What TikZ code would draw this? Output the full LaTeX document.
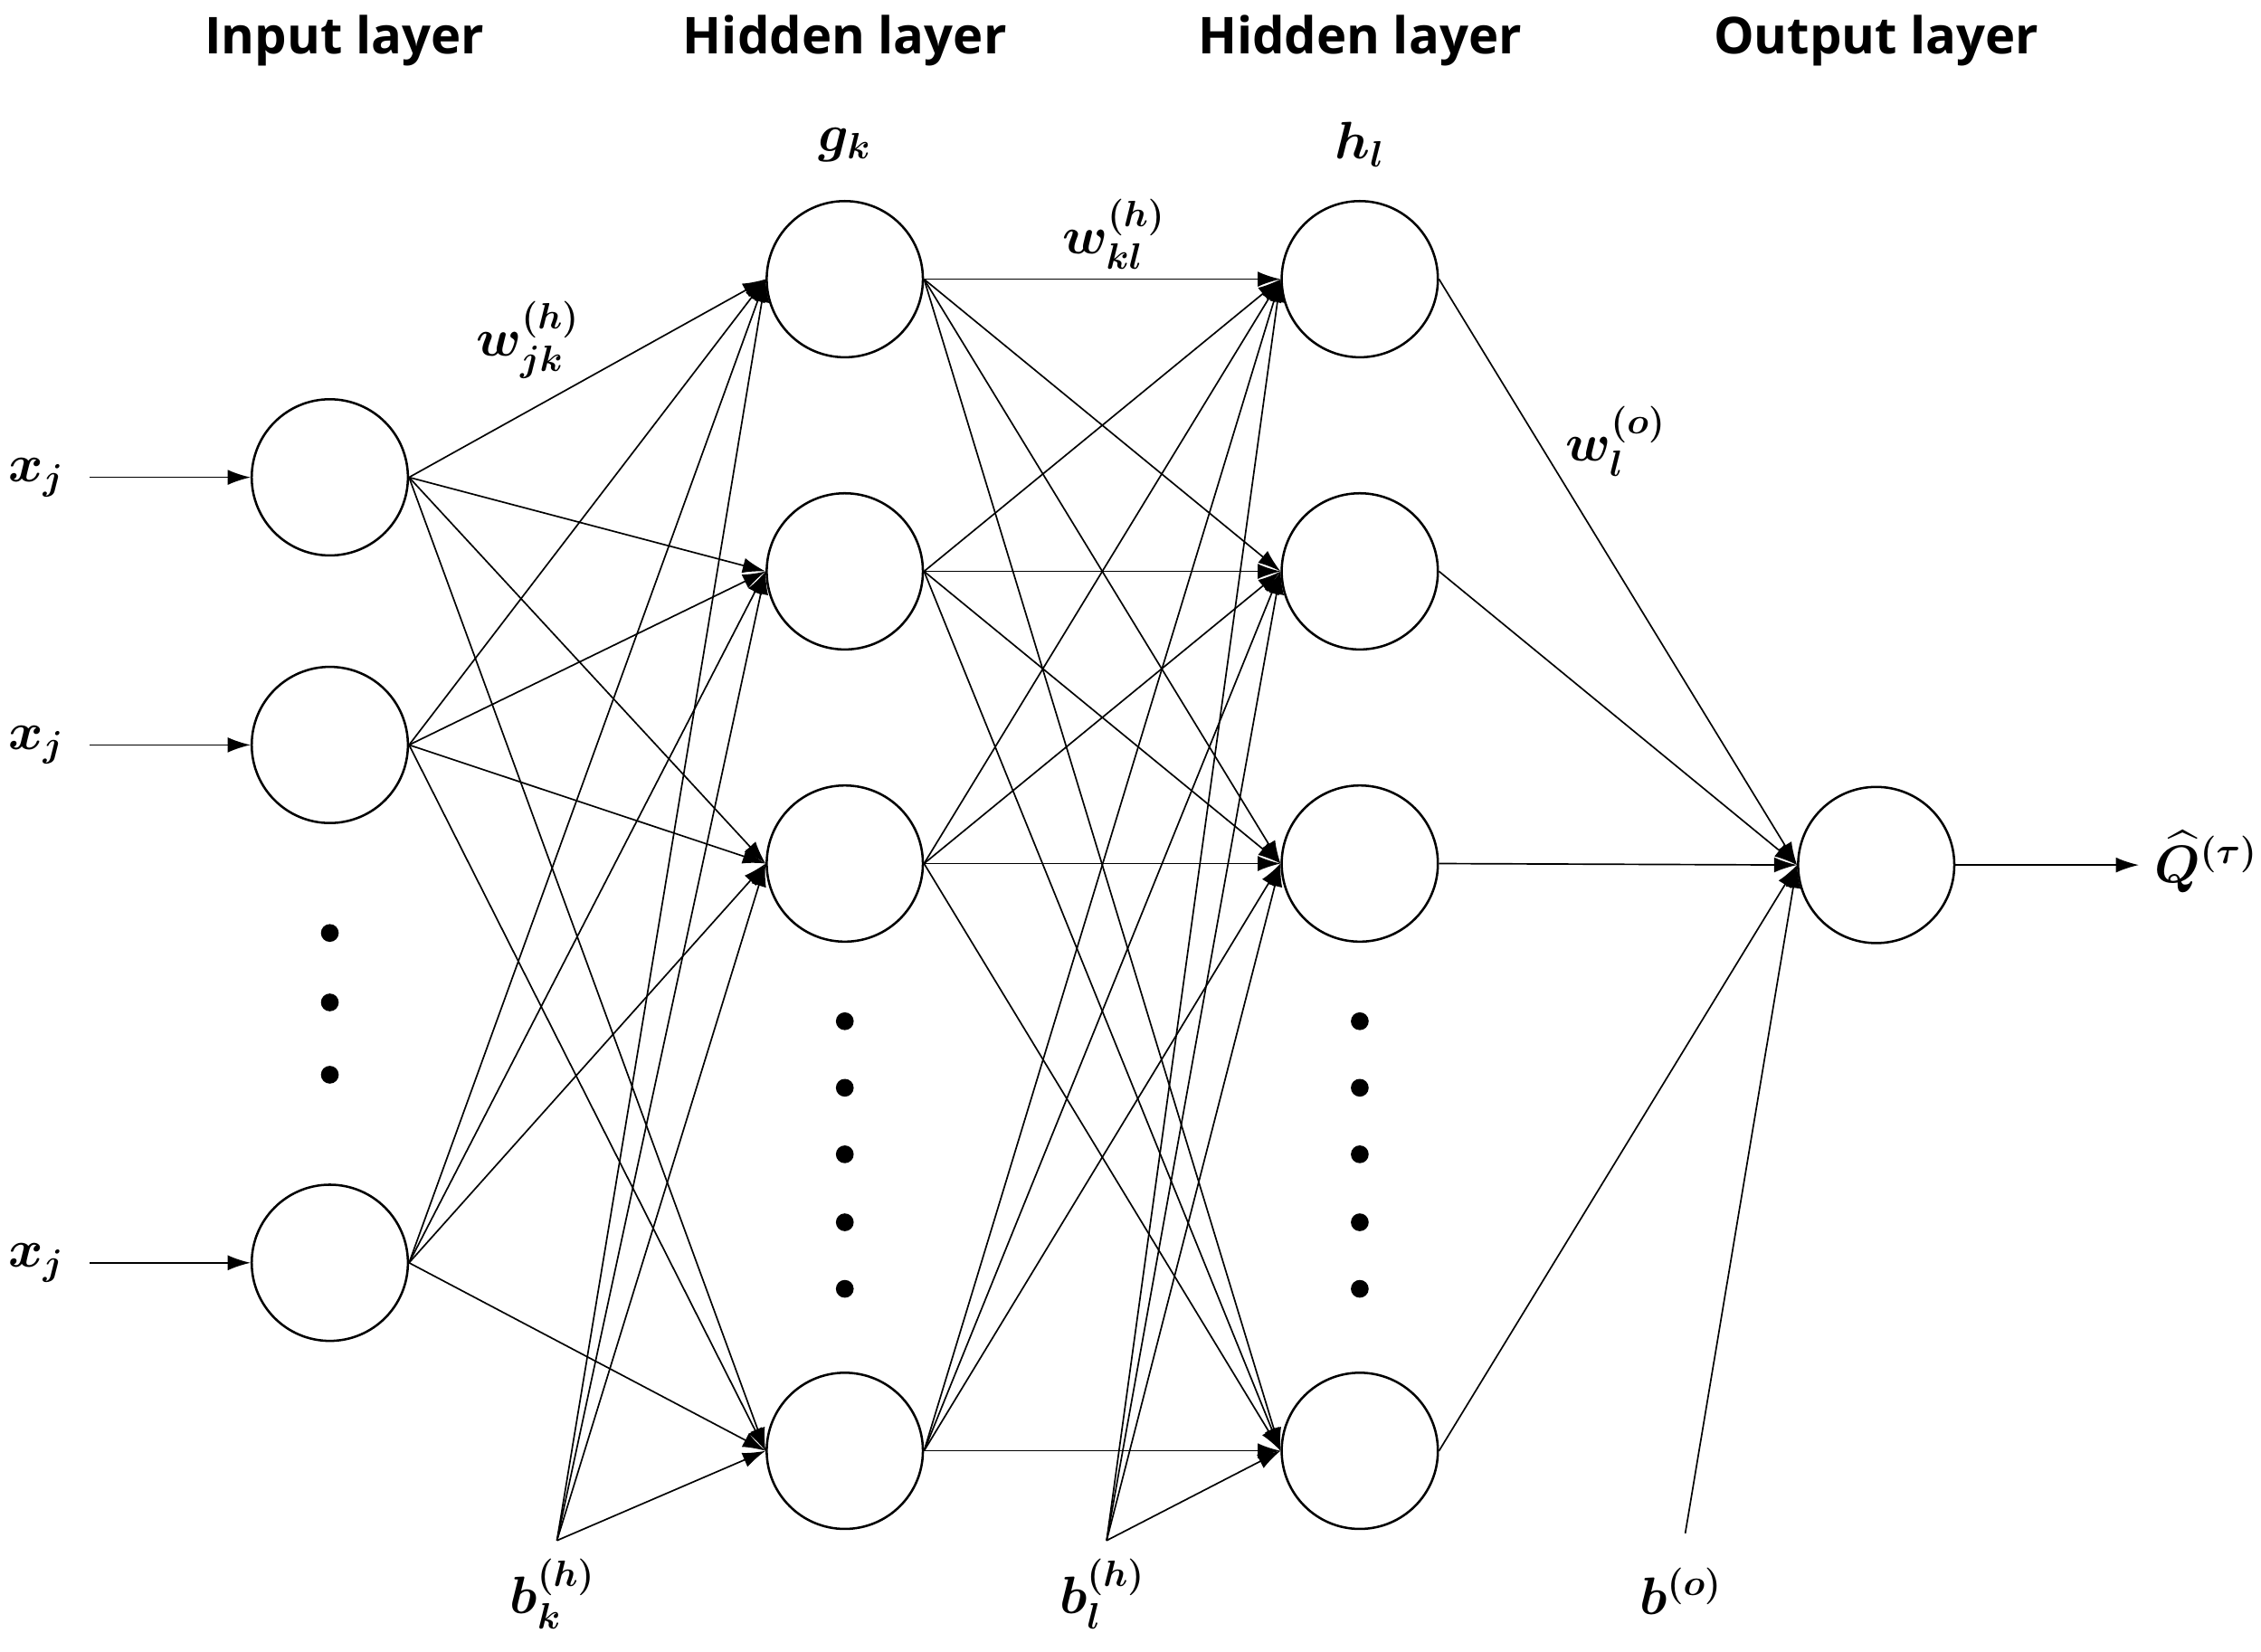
\documentclass[tikz,border=0pt]{standalone}
\usepackage{fontspec}
\usepackage{amsmath,bm}
\setmainfont{Open Sans}
\usetikzlibrary{arrows.meta}
\begin{document}
\begin{tikzpicture}[x=0.02cm, y=-0.02cm, >={Latex[length=9pt,width=6pt]}]
    \tikzstyle{neuron}=[circle,draw,line width=0.9pt,minimum size=2.16cm,inner sep=0pt]
    \tikzstyle{conn}=[->,line width=0.6pt]
    \tikzstyle{dot}=[circle,fill=black,minimum size=7pt,inner sep=0pt]
    \tikzstyle{annot}=[font=\fontsize{20}{24}\selectfont\bfseries]
    \tikzstyle{lab}=[font=\fontsize{20}{24}\selectfont]
    \useasboundingbox (0,0) rectangle (1563,1142);

    % headers
    \foreach \x/\t in {238/Input layer, 584/Hidden layer, 940/Hidden layer, 1297/Output layer}
    \node[annot] at (\x,28) {\t};

    % neurons
    \foreach \y [count=\i] in {330, 515, 873}
    \node[neuron] (input-\i) at (228,\y) {};
    \foreach \y [count=\i] in {193, 395, 597, 1003}
    \node[neuron] (hidden-\i) at (584,\y) {};
    \foreach \y [count=\i] in {193, 395, 597, 1003}
    \node[neuron] (hiddenb-\i) at (940,\y) {};
    \node[neuron] (output-1) at (1297,598) {};

    % dots
    \foreach \y in {645, 693, 743}
    \node[dot] at (228,\y) {};
    \foreach \y in {706, 752, 798, 845, 891}
    {\node[dot] at (584,\y) {};
     \node[dot] at (940,\y) {};}

    % inputs
    \foreach \i in {1,2,3}
    {\node[lab] (x-\i) at (25,0 |- input-\i) {$\bm{x_j}$};
     \coordinate (xs-\i) at (62,0 |- input-\i);
     \draw[conn] (xs-\i) -- (input-\i);}

    % connections
    \foreach \i in {1,2,3}
    \foreach \j in {1,...,4}
    \draw[conn] (input-\i.east) -- (hidden-\j.west);
    \foreach \i in {1,...,4}
    \foreach \j in {1,...,4}
    \draw[conn] (hidden-\i.east) -- (hiddenb-\j.west);
    \foreach \i in {1,...,4}
    \draw[conn] (hiddenb-\i.east) -- (output-1.west);

    % biases
    \coordinate (bk) at (385,1065);
    \coordinate (bl) at (765,1065);
    \coordinate (bo) at (1165,1060);
    \foreach \j in {1,...,4}
    {\draw[conn] (bk) -- (hidden-\j.west);
     \draw[conn] (bl) -- (hiddenb-\j.west);}
    \draw[conn] (bo) -- (output-1.west);
    \node[lab] at (382,1102) {$\bm{b_k^{(h)}}$};
    \node[lab] at (762,1102) {$\bm{b_l^{(h)}}$};
    \node[lab] at (1162,1100) {$\bm{b^{(o)}}$};

    % output
    \node[lab, anchor=east, inner sep=0pt] (qhat) at (1561,596) {$\bm{\widehat{Q}^{(\tau)}}$};
    \draw[conn] (output-1.east) -- ([xshift=-6pt]qhat.west |- output-1.east);

    % weight labels
    \node[lab] at (584,100) {$\bm{g_k}$};
    \node[lab] at (940,100) {$\bm{h_l}$};
    \node[lab] at (365,235) {$\bm{w_{jk}^{(h)}}$};
    \node[lab] at (770,162) {$\bm{w_{kl}^{(h)}}$};
    \node[lab] at (1117,305) {$\bm{w_l^{(o)}}$};
\end{tikzpicture}
\end{document}
